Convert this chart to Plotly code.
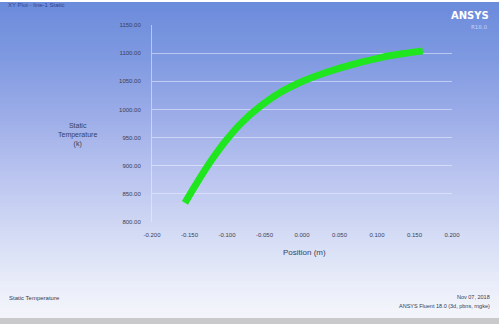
import plotly.graph_objects as go

# Static temperature along the sampled line
position_m = [-0.156, -0.144, -0.132, -0.118, -0.100, -0.080, -0.056, -0.029,
              0.001, 0.033, 0.068, 0.108, 0.140, 0.161]
static_temp_k = [834, 861, 887, 915, 947, 977, 1005, 1030,
                 1050, 1066, 1080, 1093, 1100, 1104]

x_ticks = [-0.2, -0.15, -0.1, -0.05, 0.0, 0.05, 0.1, 0.15, 0.2]
x_tick_text = ["-0.200", "-0.150", "-0.100", "-0.050", "0.000",
               "0.050", "0.100", "0.150", "0.200"]
y_ticks = [800, 850, 900, 950, 1000, 1050, 1100, 1150]
y_tick_text = ["800.00", "850.00", "900.00", "950.00", "1000.00",
               "1050.00", "1100.00", "1150.00"]

W, H = 499, 324
L, R, T, B = 152, 47, 25, 102

fig = go.Figure()
fig.add_trace(go.Scatter(
    x=position_m, y=static_temp_k, mode="lines",
    line=dict(color="#1fe61f", width=7, shape="spline", smoothing=0.8),
    hoverinfo="skip", showlegend=False,
))

# vertical background gradient drawn as thin bands in paper coordinates
stops = [(0, (106, 138, 219)), (60, (128, 154, 225)), (120, (158, 174, 232)),
         (180, (188, 198, 240)), (240, (214, 221, 245)), (290, (236, 239, 250)),
         (318, (244, 245, 251))]

def colour_at(py):
    for (y0, c0), (y1, c1) in zip(stops, stops[1:]):
        if y0 <= py <= y1:
            t = (py - y0) / (y1 - y0)
            return tuple(round(a + (b - a) * t) for a, b in zip(c0, c1))
    return stops[-1][1]

plot_h = H - T - B
plot_w = W - L - R

def py_to_paper(py):
    return (H - B - py) / plot_h

def px_to_paper(px):
    return (px - L) / plot_w

shapes = []
band = 3
for py in range(2, 318, band):
    c = colour_at(py + band / 2)
    shapes.append(dict(
        type="rect", xref="paper", yref="paper", layer="below",
        x0=px_to_paper(0), x1=px_to_paper(W),
        y0=py_to_paper(min(py + band, 318)), y1=py_to_paper(py),
        fillcolor="rgb(%d,%d,%d)" % c, line=dict(width=0),
    ))
# grey strip along the bottom edge
shapes.append(dict(
    type="rect", xref="paper", yref="paper", layer="below",
    x0=px_to_paper(0), x1=px_to_paper(W),
    y0=py_to_paper(324), y1=py_to_paper(318),
    fillcolor="#c9c9cc", line=dict(width=0),
))
# short leader to the right of the top gridline towards the logo
shapes.append(dict(
    type="line", xref="paper", yref="paper", layer="below",
    x0=1.0, x1=px_to_paper(452), y0=1.0, y1=1.0,
    line=dict(color="rgba(235,240,255,0.6)", width=1),
))

txt = "#3a3f58"
annotations = [
    dict(text="<b>ANSYS</b>", x=px_to_paper(491), y=py_to_paper(16), xanchor="right",
         yanchor="middle", font=dict(family="DejaVu Sans", size=10, color="white"),
         showarrow=False, xref="paper", yref="paper"),
    dict(text="R18.0", x=px_to_paper(490), y=py_to_paper(27), xanchor="right",
         yanchor="middle", font=dict(family="DejaVu Sans", size=5.5, color="#c8d2f4"),
         showarrow=False, xref="paper", yref="paper"),
    dict(text="XY Plot - line-1 Static", x=px_to_paper(6), y=py_to_paper(5),
         xanchor="left", yanchor="middle",
         font=dict(family="Liberation Sans", size=6, color="#34468a"),
         showarrow=False, xref="paper", yref="paper"),
    dict(text="Static<br>Temperature<br>(k)", x=px_to_paper(77), y=py_to_paper(135),
         xanchor="center", yanchor="middle", align="center",
         font=dict(family="Liberation Sans", size=7, color=txt),
         showarrow=False, xref="paper", yref="paper"),
    dict(text="Position (m)", x=px_to_paper(304), y=py_to_paper(252),
         xanchor="center", yanchor="middle",
         font=dict(family="Liberation Sans", size=8, color=txt),
         showarrow=False, xref="paper", yref="paper"),
    dict(text="Static Temperature", x=px_to_paper(7), y=py_to_paper(298),
         xanchor="left", yanchor="middle",
         font=dict(family="Liberation Sans", size=6, color="#333a55"),
         showarrow=False, xref="paper", yref="paper"),
    dict(text="Nov 07, 2018", x=px_to_paper(492), y=py_to_paper(297),
         xanchor="right", yanchor="middle",
         font=dict(family="Liberation Sans", size=5.5, color="#333a55"),
         showarrow=False, xref="paper", yref="paper"),
    dict(text="ANSYS Fluent 18.0 (3d, pbns, rngke)", x=px_to_paper(492),
         y=py_to_paper(306), xanchor="right", yanchor="middle",
         font=dict(family="Liberation Sans", size=5.5, color="#333a55"),
         showarrow=False, xref="paper", yref="paper"),
]

fig.update_layout(
    width=W, height=H,
    margin=dict(l=L, r=R, t=T, b=B, pad=0),
    paper_bgcolor="#ffffff", plot_bgcolor="rgba(0,0,0,0)",
    shapes=shapes, annotations=annotations,
    xaxis=dict(range=[-0.2, 0.2], tickvals=x_ticks, ticktext=x_tick_text,
               showgrid=False, zeroline=False, showline=False,
               ticks="", ticklabelstandoff=8,
               tickfont=dict(family="Liberation Sans", size=6, color=txt)),
    yaxis=dict(range=[800, 1150], tickvals=y_ticks, ticktext=y_tick_text,
               showgrid=True, gridcolor="rgba(235,240,255,0.55)", gridwidth=1,
               zeroline=False, showline=True, linecolor="rgba(235,240,255,0.55)",
               linewidth=1, ticks="", ticklabelstandoff=9,
               tickfont=dict(family="Liberation Sans", size=6, color=txt)),
)

fig.write_html("out.html")
